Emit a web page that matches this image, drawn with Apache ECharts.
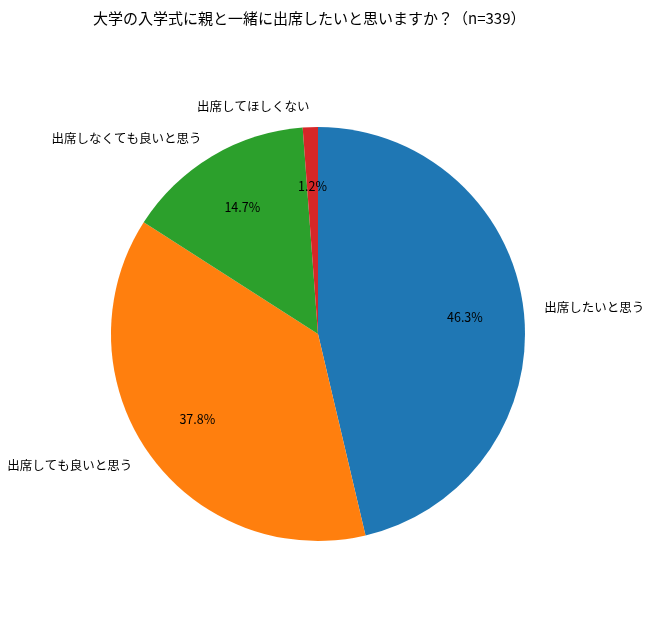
<!DOCTYPE html>
<html lang="ja">

<head>
  <meta charset="UTF-8">
  <title>大学の入学式に親と一緒に出席したいと思いますか？</title>
  <style>
    html, body {
      margin: 0;
      padding: 0;
      background: #fff;
    }
    #root {
      width: 650px;
      height: 644px;
    }
  </style>
</head>

<body>
  <div id="root"></div>
</body>
<script src="https://cdn.jsdelivr.net/npm/echarts@6/dist/echarts.min.js"></script>
<script>
  // 回答の内訳 (n=339)
  const categories = ['出席したいと思う', '出席しても良いと思う', '出席しなくても良いと思う', '出席してほしくない']
  const counts = [157, 128, 50, 4]
  const colors = ['#1f77b4', '#ff7f0e', '#2ca02c', '#d62728']

  const total = counts.reduce((a, b) => a + b, 0)
  const font = 'Noto Sans CJK JP'
  const R = 207

  const pieData = categories.map((name, i) => ({
    name: name,
    value: counts[i],
    itemStyle: { color: colors[i] }
  }))

  let myChart = echarts.init(document.getElementById('root'), null, { renderer: 'canvas' })

  let option = {
    animation: false,
    title: {
      text: '大学の入学式に親と一緒に出席したいと思いますか？（n=339）',
      left: 88,
      top: 6,
      textStyle: {
        fontFamily: font,
        fontSize: 15,
        fontWeight: 'normal',
        color: '#000'
      }
    },
    series: [
      {
        // 扇形と外側のラベル
        type: 'pie',
        center: [318, 334],
        radius: [0, R],
        startAngle: 90,
        clockwise: true,
        avoidLabelOverlap: false,
        silent: true,
        data: pieData,
        itemStyle: { borderWidth: 0 },
        label: {
          show: true,
          position: 'outside',
          formatter: '{b}',
          fontFamily: font,
          fontSize: 12.5,
          color: '#000',
          distanceToLabelLine: 0,
          bleedMargin: 0,
          overflow: 'none'
        },
        labelLine: {
          show: false,
          length: R * 0.1,
          length2: 0
        }
      },
      {
        // パーセント表示 (半径の0.7倍の位置)
        type: 'pie',
        center: [318, 334],
        radius: [0, R * 1.4],
        startAngle: 90,
        clockwise: true,
        silent: true,
        z: 5,
        data: pieData.map(d => ({ name: d.name, value: d.value })),
        itemStyle: { color: 'rgba(0,0,0,0)', borderWidth: 0 },
        label: {
          show: true,
          position: 'inside',
          formatter: p => (p.value / total * 100).toFixed(1) + '%',
          fontFamily: font,
          fontSize: 12.5,
          color: '#000'
        },
        labelLine: { show: false }
      }
    ]
  };

  myChart.setOption(option)
</script>

</html>
